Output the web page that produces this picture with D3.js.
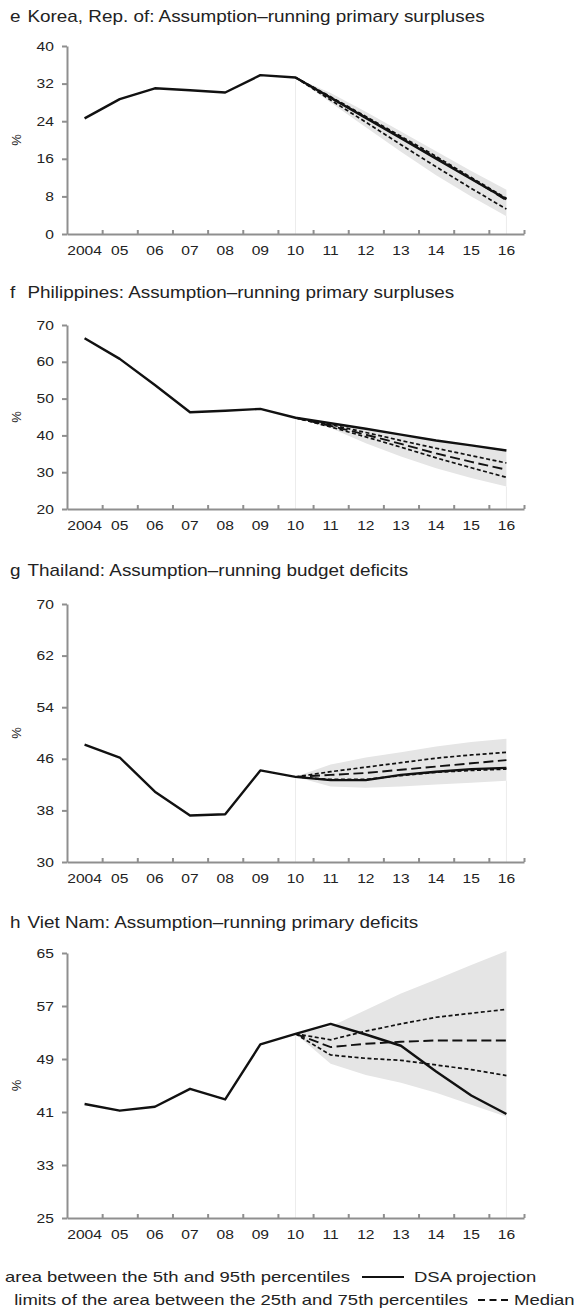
<!DOCTYPE html>
<html>
<head>
<meta charset="utf-8">
<script src="https://cdn.jsdelivr.net/npm/d3@7"></script>
<style>
  body { margin: 0; background: #fff; }
  svg text { font-family: "Liberation Sans", Arial, sans-serif; fill: #222; }
</style>
</head>
<body>
<svg id="viz"></svg>
<script>
let width = 582;
let height = 1313;

let years = [2004, 2005, 2006, 2007, 2008, 2009, 2010, 2011, 2012, 2013, 2014, 2015, 2016];
let yearLabels = ["2004", "05", "06", "07", "08", "09", "10", "11", "12", "13", "14", "15", "16"];
let projYears = [2010, 2011, 2012, 2013, 2014, 2015, 2016];

// e Korea
let koreaDsa = [24.6, 28.7, 31.0, 30.6, 30.1, 33.8, 33.3, 29.0, 24.7, 20.4, 16.0, 11.7, 7.4];
let koreaMedian = [33.3, 29.0, 24.8, 20.5, 16.2, 11.8, 7.2];
let koreaP75 = [33.3, 29.2, 25.0, 20.8, 16.5, 12.0, 7.6];
let koreaP25 = [33.3, 28.5, 23.8, 19.0, 14.3, 9.7, 5.3];
let koreaP95 = [33.3, 30.0, 26.0, 21.8, 17.6, 13.4, 9.4];
let koreaP5 = [33.3, 28.0, 22.7, 17.5, 12.5, 8.0, 3.8];

// f Philippines
let philDsa = [66.4, 60.8, 53.7, 46.3, 46.7, 47.2, 44.8, 43.3, 41.8, 40.2, 38.6, 37.3, 35.9];
let philMedian = [44.8, 42.6, 40.2, 37.7, 35.1, 32.8, 30.7];
let philP75 = [44.8, 42.9, 40.8, 38.6, 36.5, 34.5, 32.5];
let philP25 = [44.8, 42.3, 39.6, 36.8, 33.9, 31.2, 28.6];
let philP95 = [44.8, 43.5, 42.0, 40.4, 38.9, 37.5, 36.2];
let philP5 = [44.8, 42.0, 37.9, 34.3, 31.1, 28.4, 26.1];

// g Thailand
let thaiDsa = [48.2, 46.2, 40.9, 37.2, 37.4, 44.2, 43.2, 42.7, 42.7, 43.5, 44.0, 44.4, 44.6];
let thaiMedian = [43.2, 43.5, 43.8, 44.3, 44.8, 45.3, 45.8];
let thaiP75 = [43.2, 44.0, 44.7, 45.4, 46.1, 46.6, 47.0];
let thaiP25 = [43.2, 42.8, 42.8, 43.4, 43.9, 44.2, 44.4];
let thaiP95 = [43.2, 45.1, 46.2, 47.0, 47.9, 48.6, 49.1];
let thaiP5 = [43.2, 41.7, 41.5, 41.7, 42.0, 42.3, 42.6];

// h Viet Nam
let vietDsa = [42.2, 41.2, 41.8, 44.5, 42.9, 51.2, 52.8, 54.3, 52.7, 51.0, 47.1, 43.5, 40.7];
let vietMedian = [52.8, 50.8, 51.3, 51.6, 51.8, 51.8, 51.8];
let vietP75 = [52.8, 51.9, 53.2, 54.3, 55.3, 55.9, 56.5];
let vietP25 = [52.8, 49.6, 49.1, 48.8, 48.1, 47.4, 46.5];
let vietP95 = [52.8, 53.9, 56.4, 58.9, 61.0, 63.2, 65.3];
let vietP5 = [52.8, 48.3, 46.6, 45.4, 43.9, 42.1, 40.3];

let letters = ["e", "f", "g", "h"];
let titles = [
    "Korea, Rep. of: Assumption\u2013running primary surpluses",
    "Philippines: Assumption\u2013running primary surpluses",
    "Thailand: Assumption\u2013running budget deficits",
    "Viet Nam: Assumption\u2013running primary deficits"
];
let yDomains = [[0, 40], [20, 70], [30, 70], [25, 65]];
let yTicks = [[0, 8, 16, 24, 32, 40], [20, 30, 40, 50, 60, 70], [30, 38, 46, 54, 62, 70], [25, 33, 41, 49, 57, 65]];

let legendText = ["area between the 5th and 95th percentiles", "limits of the area between the 25th and 75th percentiles"];
let legendKeys = ["DSA projection", "Median"];

let panels = [
    {dsa: koreaDsa, med: koreaMedian, p75: koreaP75, p25: koreaP25, p95: koreaP95, p5: koreaP5, titleY: 16, top: 46, bottom: 234},
    {dsa: philDsa, med: philMedian, p75: philP75, p25: philP25, p95: philP95, p5: philP5, titleY: 292, top: 325, bottom: 509},
    {dsa: thaiDsa, med: thaiMedian, p75: thaiP75, p25: thaiP25, p95: thaiP95, p5: thaiP5, titleY: 570, top: 604, bottom: 862},
    {dsa: vietDsa, med: vietMedian, p75: vietP75, p25: vietP25, p95: vietP95, p5: vietP5, titleY: 922, top: 953, bottom: 1218}
];

// the reference type is a little wider than Liberation Sans
let stretch = 1.2;

let svg = d3.select("#viz")
    .attr("width", width)
    .attr("height", height);

let x = d3.scaleLinear()
    .domain([2003.5, 2016.5])
    .range([67, 524]);

let axisColor = "#8f8f8f";

function wideText(sel, tx, ty, size, sx) {
    return sel.append("text")
        .attr("transform", "translate(" + tx + "," + ty + ") scale(" + sx + ",1)")
        .attr("dy", "0.35em")
        .style("font-size", size + "px");
}

panels.forEach(function(p, i) {
    let g = svg.append("g");
    let y = d3.scaleLinear()
        .domain(yDomains[i])
        .range([p.bottom, p.top]);

    wideText(g, 10, p.titleY, 16, 1.18).text(letters[i]);
    wideText(g, 27.5, p.titleY, 16, 1.18).text(titles[i]);

    // fan between 5th and 95th percentiles
    let fan = projYears.map((yr, k) => ({yr: yr, lo: p.p5[k], hi: p.p95[k]}));
    g.append("path")
        .datum(fan)
        .attr("fill", "#e5e5e5")
        .attr("d", d3.area()
            .x(d => x(d.yr))
            .y0(d => y(d.lo))
            .y1(d => y(d.hi)));

    // faint vertical edges of the projection period
    g.append("line")
        .attr("x1", x(2010)).attr("x2", x(2010))
        .attr("y1", p.bottom).attr("y2", y(p.dsa[6]))
        .attr("stroke", "#ececec").attr("stroke-width", 1);
    g.append("line")
        .attr("x1", x(2016)).attr("x2", x(2016))
        .attr("y1", p.bottom).attr("y2", y(p.p5[6]))
        .attr("stroke", "#ececec").attr("stroke-width", 1);

    let line = d3.line()
        .x(d => x(d[0]))
        .y(d => y(d[1]));

    [p.p75, p.p25].forEach(function(s) {
        g.append("path")
            .datum(projYears.map((yr, k) => [yr, s[k]]))
            .attr("fill", "none")
            .attr("stroke", "#111")
            .attr("stroke-width", 1.7)
            .attr("stroke-dasharray", "4,2.5")
            .attr("d", line);
    });

    g.append("path")
        .datum(projYears.map((yr, k) => [yr, p.med[k]]))
        .attr("fill", "none")
        .attr("stroke", "#111")
        .attr("stroke-width", 1.9)
        .attr("stroke-dasharray", "10,4.5")
        .attr("d", line);

    g.append("path")
        .datum(years.map((yr, k) => [yr, p.dsa[k]]))
        .attr("fill", "none")
        .attr("stroke", "#111")
        .attr("stroke-width", 2.4)
        .attr("stroke-linejoin", "round")
        .attr("d", line);

    // y axis
    let yAxis = g.append("g")
        .attr("transform", "translate(67,0)")
        .call(d3.axisLeft(y).tickValues(yTicks[i]).tickSize(5).tickPadding(6).tickSizeOuter(0));
    yAxis.select(".domain").attr("stroke", axisColor).attr("stroke-width", 2);
    yAxis.selectAll(".tick line").attr("stroke", axisColor).attr("stroke-width", 2);
    yAxis.selectAll("text")
        .attr("transform", "scale(" + stretch + ",1)")
        .style("font-size", "13px")
        .style("font-family", "Liberation Sans, Arial, sans-serif")
        .attr("fill", "#222");

    // x axis: ticks at year boundaries pointing inward, labels at year centres
    let bounds = years.map(yr => yr + 0.5);
    let xAxis = g.append("g")
        .attr("transform", "translate(0," + p.bottom + ")")
        .call(d3.axisBottom(x).tickValues(bounds).tickSize(-4).tickFormat("").tickSizeOuter(0));
    xAxis.select(".domain").attr("stroke", axisColor).attr("stroke-width", 2);
    xAxis.selectAll(".tick line").attr("stroke", axisColor).attr("stroke-width", 2);

    years.forEach(function(yr, k) {
        wideText(g, x(yr), p.bottom + 16, 13, stretch)
            .attr("text-anchor", "middle")
            .text(yearLabels[k]);
    });

    g.append("text")
        .attr("transform", "translate(16," + ((p.top + p.bottom) / 2) + ") rotate(-90)")
        .attr("text-anchor", "middle")
        .attr("dy", "0.35em")
        .style("font-size", "13px")
        .text("%");
});

// legend
let lg = svg.append("g");
wideText(lg, 350, 1277, 15.4, stretch).attr("text-anchor", "end").text(legendText[0]);
wideText(lg, 468, 1300, 15.4, stretch).attr("text-anchor", "end").text(legendText[1]);

lg.append("line")
    .attr("x1", 362).attr("x2", 404)
    .attr("y1", 1277).attr("y2", 1277)
    .attr("stroke", "#111").attr("stroke-width", 2.2);
lg.append("line")
    .attr("x1", 478).attr("x2", 509)
    .attr("y1", 1300).attr("y2", 1300)
    .attr("stroke", "#111").attr("stroke-width", 2)
    .attr("stroke-dasharray", "7,4.5");

wideText(lg, 414, 1277, 15.4, stretch).text(legendKeys[0]);
wideText(lg, 514, 1300, 15.4, stretch).text(legendKeys[1]);
</script>
</body>
</html>
